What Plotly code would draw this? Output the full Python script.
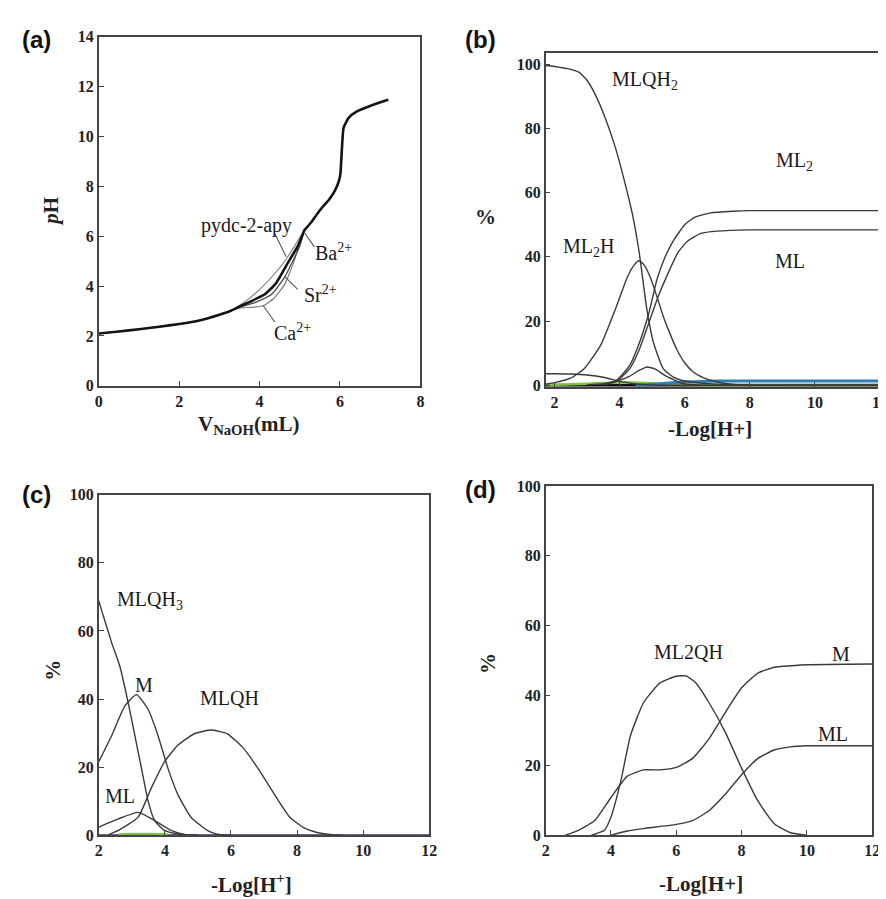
import plotly.graph_objects as go

W, H = 886, 899

# ---------------- Panel (a): titration curves ----------------
a_low_x = [0, 0.5, 1, 1.5, 2, 2.5, 3, 3.3]
a_low_y = [2.1, 2.18, 2.27, 2.37, 2.48, 2.62, 2.85, 3.02]

a_pydc_x = [3.5, 3.7, 3.89, 4.1, 4.35, 4.62, 4.85, 5.11]
a_pydc_y = [3.22, 3.45, 3.7, 4.02, 4.45, 4.98, 5.55, 6.23]
a_ba_x = [3.5, 3.8, 4.13, 4.4, 4.72, 4.95, 5.11]
a_ba_y = [3.18, 3.4, 3.67, 4.1, 4.98, 5.6, 6.23]
a_sr_x = [3.5, 3.9, 4.3, 4.62, 4.82, 5.0, 5.11]
a_sr_y = [3.15, 3.35, 3.67, 4.35, 4.98, 5.6, 6.23]
a_ca_x = [3.5, 3.8, 4.09, 4.35, 4.62, 4.87, 5.03, 5.11]
a_ca_y = [3.12, 3.15, 3.21, 3.5, 4.06, 5.05, 5.95, 6.23]

a_high_x = [5.11, 5.28, 5.52, 5.73, 5.88, 5.97, 6.01, 6.05, 6.09, 6.22, 6.42, 6.83, 7.2]
a_high_y = [6.23, 6.55, 7.08, 7.47, 7.85, 8.2, 8.5, 9.57, 10.35, 10.75, 11.0, 11.27, 11.47]

a_labels = ["pydc-2-apy", "Ba<sup>2+</sup>", "Sr<sup>2+</sup>", "Ca<sup>2+</sup>"]
a_label_pos = [(3.68, 6.42), (5.85, 5.37), (5.52, 3.67), (4.83, 2.16)]
a_pointer_from = [(4.38, 6.1), (5.11, 6.16), (4.62, 4.39), (4.09, 3.21)]
a_pointer_to = [(4.66, 5.18), (5.36, 5.57), (4.95, 3.87), (4.38, 2.56)]

# ---------------- Panel (b) ----------------
b_mlqh2_x = [1.73, 2.0, 2.4, 2.75, 3.0, 3.25, 3.55, 3.86, 4.16, 4.4, 4.6, 4.84, 5.04, 5.34, 5.65, 5.95, 6.4, 6.75, 7.5, 9, 12]
b_mlqh2_y = [99.6, 99.3, 98.6, 97.5, 95.0, 90.6, 83.5, 74.4, 63.2, 53.0, 41.5, 23.5, 13.3, 5.2, 2.5, 1.4, 0.8, 0.5, 0.1, 0, 0]
b_ml2h_x = [1.73, 2.0, 2.5, 2.92, 3.42, 3.92, 4.23, 4.45, 4.59, 4.75, 4.94, 5.15, 5.34, 5.55, 5.75, 6.0, 6.25, 6.6, 6.95, 7.45, 8, 12]
b_ml2h_y = [0.3, 0.8, 2.2, 5.2, 12.5, 25.0, 33.5, 37.5, 38.8, 37.5, 33.7, 27.5, 21.5, 16.0, 11.3, 7.0, 4.2, 2.2, 1.1, 0.3, 0.05, 0]
b_ml2_x = [3.5, 3.9, 4.3, 4.6, 4.9, 5.15, 5.4, 5.65, 6.0, 6.3, 6.8, 7.5, 8, 12]
b_ml2_y = [0.3, 1.5, 6.0, 13.0, 22.5, 33.0, 40.0, 45.0, 50.0, 52.3, 53.7, 54.2, 54.4, 54.4]
b_ml_x = [3.5, 3.9, 4.3, 4.6, 4.9, 5.2, 5.45, 5.8, 6.1, 6.5, 7.0, 8, 12]
b_ml_y = [0.2, 1.2, 5.0, 11.0, 19.5, 28.0, 34.0, 41.5, 45.0, 47.3, 48.0, 48.4, 48.4]
b_bump_x = [3.0, 3.5, 3.92, 4.3, 4.6, 4.84, 5.1, 5.4, 5.95, 6.5, 12]
b_bump_y = [0.1, 0.5, 1.3, 2.8, 4.6, 5.7, 5.0, 3.0, 0.5, 0.05, 0]
b_low_x = [1.73, 2.0, 2.5, 3.0, 3.5, 4.0, 4.5, 5.0, 5.5, 12]
b_low_y = [3.6, 3.6, 3.5, 3.2, 2.5, 1.2, 0.4, 0.1, 0, 0]
b_blue_x = [4.5, 5.0, 5.5, 6.0, 6.5, 7.0, 8.0, 12]
b_blue_y = [0, 0.3, 0.7, 1.0, 1.2, 1.3, 1.3, 1.3]
b_green_x = [1.73, 2.5, 3.5, 4.2, 5.0, 5.8, 6.5, 12]
b_green_y = [0, 0.3, 0.7, 0.9, 0.6, 0.2, 0, 0]
b_base_x = [1.73, 12]
b_base_y = [0, 0]

b_labels = ["MLQH<sub>2</sub>", "ML<sub>2</sub>", "ML<sub>2</sub>H", "ML"]
b_label_pos = [(4.78, 95.0), (9.37, 69.8), (3.06, 42.8), (9.22, 38.7)]

# ---------------- Panel (c) ----------------
c_mlqh3_x = [2.0, 2.09, 2.39, 2.64, 2.89, 3.09, 3.29, 3.49, 3.69, 3.99, 4.3, 4.7, 5.0]
c_mlqh3_y = [68.8, 65.9, 56.5, 49.5, 38.9, 29.3, 19.7, 10.1, 4.3, 1.4, 0.5, 0.1, 0]
c_m_x = [2.0, 2.39, 2.79, 3.14, 3.49, 3.79, 4.09, 4.39, 4.79, 5.28, 5.58, 6.0]
c_m_y = [21.6, 29.3, 38.0, 41.3, 37.0, 29.3, 19.7, 12.0, 5.3, 1.4, 0.3, 0]
c_mlqh_x = [2.3, 2.59, 3.19, 3.59, 3.99, 4.39, 4.89, 5.39, 5.89, 6.38, 6.88, 7.38, 7.78, 8.2, 8.6, 9.0, 9.4]
c_mlqh_y = [0.2, 1.4, 5.3, 13.9, 21.6, 26.4, 29.8, 30.9, 29.8, 25.5, 18.7, 11.0, 5.3, 2.2, 0.8, 0.2, 0]
c_ml_x = [2.0, 2.59, 3.19, 3.69, 4.19, 4.59, 5.0]
c_ml_y = [2.4, 4.8, 6.7, 4.3, 1.4, 0.2, 0]
c_green_x = [2.6, 3.0, 3.5, 4.1]
c_green_y = [0.3, 0.4, 0.4, 0.3]
c_base_x = [2, 12]
c_base_y = [0, 0]

c_labels = ["MLQH<sub>3</sub>", "M", "MLQH", "ML"]
c_label_pos = [(3.55, 69.0), (3.37, 44.0), (5.94, 40.4), (2.65, 11.5)]

# ---------------- Panel (d) ----------------
d_ml2qh_x = [3.4, 3.8, 4.0, 4.3, 4.6, 5.0, 5.5, 6.0, 6.3, 6.6, 7.0, 7.5, 8.0, 8.5, 9.0, 9.5, 10.0]
d_ml2qh_y = [0, 1.4, 5.2, 15.5, 28.6, 38.0, 43.6, 45.5, 45.6, 43.6, 38.0, 29.5, 19.2, 9.8, 3.3, 0.7, 0]
d_m_x = [2.6, 3.0, 3.5, 4.0, 4.5, 5.0, 5.5, 6.0, 6.5, 7.0, 7.5, 8.0, 8.5, 9.0, 9.5, 10.0, 12.0]
d_m_y = [0, 1.4, 4.2, 10.8, 16.9, 18.7, 18.7, 19.4, 22.0, 27.6, 35.1, 42.2, 46.4, 48.1, 48.5, 48.8, 49.0]
d_ml_x = [4.0, 4.5, 5.0, 6.0, 6.5, 7.0, 7.5, 8.0, 8.5, 9.0, 9.5, 10.0, 12.0]
d_ml_y = [0, 1.2, 1.9, 3.1, 4.2, 7.0, 11.7, 17.3, 22.0, 24.4, 25.3, 25.6, 25.6]

d_labels = ["ML2QH", "M", "ML"]
d_label_pos = [(6.36, 52.5), (11.06, 52.0), (10.8, 29.0)]

# ---------------- Figure ----------------
SERIF = "Liberation Serif"
SANS = "Liberation Sans"
LINE = "#3a3a3a"

fig = go.Figure()

def add_line(x, y, xa, ya, color=LINE, width=1.4):
    fig.add_trace(go.Scatter(x=x, y=y, mode="lines", xaxis=xa, yaxis=ya,
                             line=dict(color=color, width=width, shape="spline", smoothing=0.5),
                             showlegend=False, hoverinfo="skip"))

# (a)
add_line(a_low_x + a_pydc_x + a_high_x, a_low_y + a_pydc_y + a_high_y, "x", "y", "#8a8a8a", 1.2)
add_line(a_low_x + a_ca_x + a_high_x, a_low_y + a_ca_y + a_high_y, "x", "y", "#7a7a7a", 1.2)
add_line(a_low_x + a_sr_x + a_high_x, a_low_y + a_sr_y + a_high_y, "x", "y", "#4a4a4a", 1.3)
add_line(a_low_x + a_ba_x + a_high_x, a_low_y + a_ba_y + a_high_y, "x", "y", "#151515", 2.6)

# (b)
add_line(b_base_x, b_base_y, "x2", "y2", "#111111", 3)
add_line(b_green_x, b_green_y, "x2", "y2", "#7dc242", 2.5)
add_line(b_blue_x, b_blue_y, "x2", "y2", "#2c7fb8", 3)
add_line(b_low_x, b_low_y, "x2", "y2")
add_line(b_bump_x, b_bump_y, "x2", "y2")
add_line(b_ml2h_x, b_ml2h_y, "x2", "y2")
add_line(b_ml2_x, b_ml2_y, "x2", "y2")
add_line(b_ml_x, b_ml_y, "x2", "y2")
add_line(b_mlqh2_x, b_mlqh2_y, "x2", "y2")

# (c)
add_line(c_base_x, c_base_y, "x3", "y3", "#4b2a6a", 2)
add_line(c_green_x, c_green_y, "x3", "y3", "#7dc242", 2)
add_line(c_mlqh3_x, c_mlqh3_y, "x3", "y3")
add_line(c_m_x, c_m_y, "x3", "y3")
add_line(c_mlqh_x, c_mlqh_y, "x3", "y3")
add_line(c_ml_x, c_ml_y, "x3", "y3")

# (d)
add_line(d_ml2qh_x, d_ml2qh_y, "x4", "y4")
add_line(d_m_x, d_m_y, "x4", "y4")
add_line(d_ml_x, d_ml_y, "x4", "y4")

tickfont = dict(family=SERIF, size=16, color="#222", weight="bold")

def axis(domain, rng, dtick, anchor):
    return dict(domain=domain, range=rng, dtick=dtick, anchor=anchor,
                showgrid=False, zeroline=False, showline=True, mirror=True,
                linecolor="#444", linewidth=1.5, ticks="inside", ticklen=5,
                tickwidth=1.2, tickcolor="#444", tickfont=tickfont)

def dx(p0, p1):
    return [p0 / W, p1 / W]

def dy(top, bottom):
    return [1 - bottom / H, 1 - top / H]

fig.update_layout(
    width=W, height=H, margin=dict(l=0, r=0, t=0, b=0),
    paper_bgcolor="white", plot_bgcolor="white",
    xaxis=axis(dx(88, 414), [0, 8], 2, "y"),
    yaxis=axis(dy(21, 377), [0, 14], 2, "x"),
    xaxis2=axis(dx(541, 880), [1.73, 12], 2, "y2"),
    yaxis2=axis(dy(38, 378), [-0.5, 103.4], 20, "x2"),
    xaxis3=axis(dx(88, 423), [2, 12], 2, "y3"),
    yaxis3=axis(dy(488, 835), [0, 100], 20, "x3"),
    xaxis4=axis(dx(541, 872), [2, 12], 2, "y4"),
    yaxis4=axis(dy(479, 835), [0, 100], 20, "x4"),
)

# pointer lines in panel (a)
shapes = []
for (x0, y0), (x1, y1) in zip(a_pointer_from, a_pointer_to):
    shapes.append(dict(type="line", xref="x", yref="y", x0=x0, y0=y0, x1=x1, y1=y1,
                       line=dict(color="#555", width=1.1)))
fig.update_layout(shapes=shapes)

ann = []
lab_font = dict(family=SERIF, size=20, color="#1a1a1a")

for t, (x, y) in zip(a_labels, a_label_pos):
    ann.append(dict(text=t, x=x, y=y, xref="x", yref="y", showarrow=False, font=lab_font))
for t, (x, y) in zip(b_labels, b_label_pos):
    ann.append(dict(text=t, x=x, y=y, xref="x2", yref="y2", showarrow=False, font=lab_font))
for t, (x, y) in zip(c_labels, c_label_pos):
    ann.append(dict(text=t, x=x, y=y, xref="x3", yref="y3", showarrow=False, font=lab_font))
for t, (x, y) in zip(d_labels, d_label_pos):
    ann.append(dict(text=t, x=x, y=y, xref="x4", yref="y4", showarrow=False, font=lab_font))

def pann(text, x, y, font, angle=0):
    ann.append(dict(text=text, x=x / W, y=1 - y / H, xref="paper", yref="paper",
                    showarrow=False, font=font, textangle=angle, xanchor="center", yanchor="middle"))

panel_font = dict(family=SANS, size=24, color="#111", weight="bold")
pann("(a)", 25, 24, panel_font)
pann("(b)", 475, 24, panel_font)
pann("(c)", 25, 488, panel_font)
pann("(d)", 475, 483, panel_font)

title_font = dict(family=SERIF, size=21, color="#222", weight="bold")
pann("V<sub>NaOH</sub>(mL)", 240, 417, title_font)
pann("<i>p</i>H", 40, 199, title_font, -90)
pann("-Log[H+]", 708, 421, title_font)
pann("%", 480, 205, title_font)
pann("-Log[H<sup>+</sup>]", 243, 884, title_font)
pann("%", 42, 667, title_font, -90)
pann("-Log[H+]", 698, 885, title_font)
pann("%", 482, 660, title_font, -90)

fig.update_layout(annotations=ann)
fig.write_html("out.html")
